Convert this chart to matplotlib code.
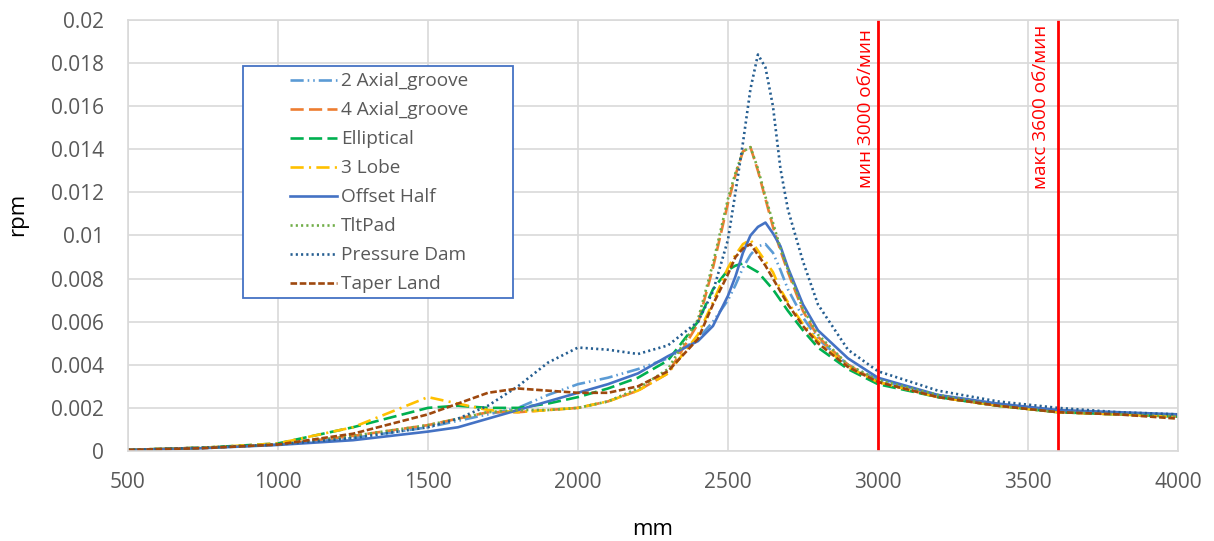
import matplotlib
matplotlib.use("Agg")
import matplotlib.pyplot as plt
from matplotlib.ticker import MultipleLocator
from matplotlib.patches import Rectangle

plt.rcParams["font.family"] = ["Open Sans", "DejaVu Sans"]

# speed grid (x axis)
x = [500, 750, 1000, 1250, 1500, 1600, 1700, 1800, 1900, 2000, 2100, 2200, 2300,
     2400, 2450, 2500, 2525, 2550, 2575, 2600, 2625, 2650, 2675, 2700, 2750, 2800,
     2900, 3000, 3200, 3400, 3600, 3800, 4000]

axial2 = [0.00005, 0.00015, 0.0003, 0.0006, 0.0011, 0.0014, 0.0017, 0.0020, 0.0026, 0.0031,
          0.0034, 0.0038, 0.0043, 0.0052, 0.0060, 0.0070, 0.0077, 0.0085, 0.0091, 0.0095,
          0.0096, 0.0092, 0.0084, 0.0075, 0.0062, 0.0052, 0.0040, 0.0033, 0.0025, 0.0021,
          0.0019, 0.0017, 0.0016]
axial4 = [0.00005, 0.00015, 0.0003, 0.0007, 0.0012, 0.0015, 0.0018, 0.0018, 0.0019, 0.0020,
          0.0023, 0.0028, 0.0036, 0.0059, 0.0085, 0.0115, 0.0128, 0.0139, 0.0141, 0.0130,
          0.0117, 0.0104, 0.0093, 0.0083, 0.0065, 0.0053, 0.0040, 0.0032, 0.0025, 0.0021,
          0.0018, 0.0017, 0.0016]
elliptical = [0.00005, 0.00015, 0.00035, 0.0011, 0.0020, 0.0021, 0.0020, 0.0020, 0.0022, 0.0025,
              0.0029, 0.0034, 0.0042, 0.0060, 0.0075, 0.0084, 0.0086, 0.0087, 0.0085, 0.0083,
              0.0079, 0.0075, 0.0070, 0.0065, 0.0056, 0.0048, 0.0038, 0.0031, 0.0025, 0.0021,
              0.0018, 0.0017, 0.0016]
lobe3 = [0.00005, 0.00015, 0.00035, 0.0011, 0.0025, 0.0022, 0.0019, 0.0018, 0.0019, 0.0020,
         0.0023, 0.0028, 0.0036, 0.0054, 0.0069, 0.0085, 0.0091, 0.0096, 0.0098, 0.0093,
         0.0088, 0.0083, 0.0075, 0.0069, 0.0059, 0.0051, 0.0039, 0.0032, 0.0025, 0.0021,
         0.0018, 0.0017, 0.0016]
offset_half = [0.00005, 0.00013, 0.00028, 0.0005, 0.0009, 0.0011, 0.0015, 0.0019, 0.0023, 0.0027,
               0.0031, 0.0036, 0.0044, 0.0051, 0.0058, 0.0072, 0.0081, 0.0092, 0.0100, 0.0104,
               0.0106, 0.0101, 0.0095, 0.0085, 0.0068, 0.0056, 0.0043, 0.0034, 0.0026, 0.0022,
               0.0019, 0.0018, 0.0017]
tilt_pad = [0.00005, 0.00015, 0.0003, 0.0007, 0.0012, 0.0015, 0.0018, 0.0019, 0.0019, 0.0020,
            0.0023, 0.0029, 0.0038, 0.0061, 0.0087, 0.0117, 0.0129, 0.0139, 0.0141, 0.0131,
            0.0118, 0.0106, 0.0094, 0.0084, 0.0066, 0.0054, 0.0040, 0.0033, 0.0026, 0.0021,
            0.0018, 0.0017, 0.0016]
pressure_dam = [0.00005, 0.00015, 0.0003, 0.0006, 0.0011, 0.0015, 0.0021, 0.0030, 0.0041, 0.0048,
                0.0047, 0.0045, 0.0049, 0.0060, 0.0074, 0.0098, 0.0120, 0.0143, 0.0168, 0.0184,
                0.0178, 0.0160, 0.0131, 0.0112, 0.0088, 0.0068, 0.0047, 0.0037, 0.0028, 0.0023,
                0.0020, 0.0018, 0.0017]
taper_land = [0.00005, 0.00013, 0.0003, 0.0008, 0.0017, 0.0022, 0.0027, 0.0029, 0.0028, 0.0027,
              0.0027, 0.0030, 0.0037, 0.0052, 0.0068, 0.0082, 0.0090, 0.0094, 0.0096, 0.0091,
              0.0086, 0.0080, 0.0074, 0.0068, 0.0058, 0.0050, 0.0039, 0.0032, 0.0025, 0.0021,
              0.0018, 0.0017, 0.0015]

fig = plt.figure(figsize=(12.14, 5.41), dpi=100)
ax = fig.add_axes([0.1054, 0.1664, 0.8649, 0.7966])

lw = 1.9
ax.plot(x, axial2, color="#5B9BD5", lw=lw, ls=(0, (5, 1.5, 0.6, 1.5, 0.6, 1.5)), label="2 Axial_groove")
ax.plot(x, axial4, color="#ED7D31", lw=lw, ls=(0, (5, 2)), label="4 Axial_groove")
ax.plot(x, elliptical, color="#00B050", lw=lw, ls=(0, (5, 2)), label="Elliptical")
ax.plot(x, lobe3, color="#FFC000", lw=lw, ls=(0, (5, 2, 0.8, 2)), label="3 Lobe")
ax.plot(x, offset_half, color="#4472C4", lw=lw, ls="-", label="Offset Half")
ax.plot(x, tilt_pad, color="#70AD47", lw=lw, ls=(0, (0.8, 1.2)), label="TltPad")
ax.plot(x, pressure_dam, color="#255E91", lw=lw, ls=(0, (0.8, 1.2)), label="Pressure Dam")
ax.plot(x, taper_land, color="#9E480E", lw=lw, ls=(0, (2.5, 1)), label="Taper Land")

# speed limits
ax.axvline(3000, color="#FF0000", lw=2)
ax.axvline(3600, color="#FF0000", lw=2)
ax.text(2960, 0.0196, "мин 3000 об/мин", rotation=90, color="#FF0000", fontsize=13.7,
        ha="center", va="top")
ax.text(3545, 0.0198, "макс 3600 об/мин", rotation=90, color="#FF0000", fontsize=13.7,
        ha="center", va="top")

ax.set_xlim(500, 4000)
ax.set_ylim(0, 0.02)
ax.xaxis.set_major_locator(MultipleLocator(500))
ax.yaxis.set_major_locator(MultipleLocator(0.002))
ax.yaxis.set_major_formatter(plt.FuncFormatter(lambda v, p: "0" if v == 0 else ("%.3f" % v).rstrip("0")))
ax.grid(True, color="#D9D9D9", lw=1.2)
ax.set_axisbelow(True)
for s in ax.spines.values():
    s.set_color("#D9D9D9")
    s.set_linewidth(1.2)
ax.tick_params(axis="y", length=0, labelsize=15, labelcolor="#595959", pad=17)
ax.tick_params(axis="x", length=0, labelsize=15, labelcolor="#595959", pad=15)
ax.set_xlabel("mm", fontsize=16, va="center")
ax.set_ylabel("rpm", fontsize=16, va="center")
ax.xaxis.set_label_coords(0.5, -0.183)
ax.yaxis.set_label_coords(-0.105, 0.548)

# legend, with its box drawn separately (entries sit inset like in the original)
leg = ax.legend(loc="upper left", bbox_to_anchor=(0.154, 0.879), borderaxespad=0,
                fontsize=13.7, handlelength=2.5, handletextpad=0.2, labelspacing=0.58,
                frameon=False, borderpad=0)
for t in leg.get_texts():
    t.set_color("#595959")
ax.add_patch(Rectangle((0.1095, 0.355), 0.257, 0.538, transform=ax.transAxes,
                       facecolor="white", edgecolor="#4472C4", lw=1.3, zorder=4))
leg.set_zorder(5)

fig.savefig("out.png", dpi=100)
